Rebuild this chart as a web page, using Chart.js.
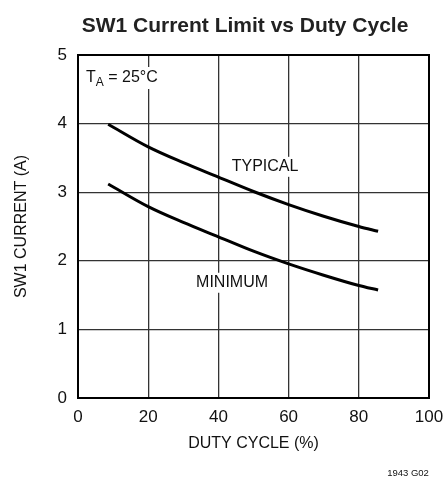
<!DOCTYPE html>
<html>
<head>
<meta charset="utf-8">
<script src="https://cdn.jsdelivr.net/npm/chart.js@4"></script>
<style>
  html, body { margin: 0; padding: 0; background: #fff; }
</style>
</head>
<body>
<canvas id="myChart" width="445" height="478"></canvas>
<script>
const FONT = '"Liberation Sans", Arial, sans-serif';

// duty cycle (%)
const dutyCycle = [8.6, 20, 30, 40, 50, 60, 70, 80, 85.5];
const typical = [3.99, 3.66, 3.43, 3.22, 3.01, 2.82, 2.65, 2.50, 2.43];
const minimum = [3.12, 2.79, 2.56, 2.35, 2.14, 1.955, 1.79, 1.64, 1.574];

const xTicks = [0, 20, 40, 60, 80, 100];
const yTicks = [0, 1, 2, 3, 4, 5];

// curve labels, in data units
const notes = [
  { text: 'TYPICAL', x: 53.3, y: 3.37 },
  { text: 'MINIMUM', x: 43.9, y: 1.68 }
];

function toPoints(xs, ys) {
  return xs.map((x, i) => ({ x: x, y: ys[i] }));
}

// title, closed frame, text on the plot, figure number
const notesPlugin = {
  id: 'notes',
  afterDatasetsDraw(chart) {
    const c = chart.ctx;
    const a = chart.chartArea;
    const xs = chart.scales.x, ys = chart.scales.y;
    c.save();
    c.strokeStyle = '#000';
    c.lineWidth = 2;
    c.strokeRect(a.left, a.top, a.right - a.left, a.bottom - a.top);

    // title sits over the plot box, not the whole canvas
    c.fillStyle = '#222';
    c.textAlign = 'center';
    c.textBaseline = 'middle';
    c.font = 'bold 21px ' + FONT;
    c.fillText('SW1 Current Limit vs Duty Cycle', 245, 26);

    c.font = '16px ' + FONT;
    notes.forEach(n => {
      const px = xs.getPixelForValue(n.x), py = ys.getPixelForValue(n.y);
      const w = c.measureText(n.text).width;
      c.fillStyle = '#fff';
      c.fillRect(px - w / 2 - 2, py - 10, w + 4, 20);
      c.fillStyle = '#111';
      c.fillText(n.text, px, py);
    });

    // T_A = 25°C with subscript
    const left = a.left + 8;
    const base = a.top + 27;
    c.textAlign = 'left';
    c.textBaseline = 'alphabetic';
    c.font = '16px ' + FONT;
    const w1 = c.measureText('T').width;
    c.font = '12px ' + FONT;
    const w2 = c.measureText('A').width;
    c.font = '16px ' + FONT;
    const w3 = c.measureText(' = 25°C').width;
    c.fillStyle = '#fff';
    c.fillRect(left - 2, base - 15, w1 + w2 + w3 + 4, 22);
    c.fillStyle = '#111';
    c.fillText('T', left, base);
    c.font = '12px ' + FONT;
    c.fillText('A', left + w1, base + 4);
    c.font = '16px ' + FONT;
    c.fillText(' = 25°C', left + w1 + w2, base);

    c.font = '9.5px ' + FONT;
    c.textAlign = 'center';
    c.fillText('1943 G02', 408, 476);
    c.restore();
  }
};

const ctx = document.getElementById('myChart').getContext('2d');
const myChart = new Chart(ctx, {
  type: 'line',
  data: {
    datasets: [{
      label: 'TYPICAL',
      data: toPoints(dutyCycle, typical),
      borderColor: '#000',
      borderWidth: 3,
      pointRadius: 0,
      cubicInterpolationMode: 'monotone'
    }, {
      label: 'MINIMUM',
      data: toPoints(dutyCycle, minimum),
      borderColor: '#000',
      borderWidth: 3,
      pointRadius: 0,
      cubicInterpolationMode: 'monotone'
    }]
  },
  options: {
    responsive: false,
    animation: false,
    layout: { padding: { left: 0, right: 16, top: 55, bottom: 0 } },
    plugins: {
      legend: { display: false },
      tooltip: { enabled: false },
      title: { display: false }
    },
    scales: {
      x: {
        type: 'linear',
        min: 0,
        max: 100,
        afterBuildTicks: s => { s.ticks = xTicks.map(v => ({ value: v })); },
        afterFit: s => { s.height = 80; s.paddingRight = 0; s.paddingLeft = 0; },
        ticks: { color: '#111', font: { family: FONT, size: 17 }, padding: 9, maxRotation: 0 },
        grid: { color: '#333', lineWidth: 1.3, drawTicks: false },
        border: { color: '#000', width: 2 },
        title: {
          display: true,
          text: 'DUTY CYCLE (%)',
          color: '#111',
          font: { family: FONT, size: 16 },
          padding: { top: 4, bottom: 25 }
        }
      },
      y: {
        min: 0,
        max: 5,
        afterBuildTicks: s => { s.ticks = yTicks.map(v => ({ value: v })); },
        afterFit: s => { s.width = 78; s.paddingTop = 0; },
        ticks: { color: '#111', font: { family: FONT, size: 17 }, padding: 11 },
        grid: { color: '#333', lineWidth: 1.3, drawTicks: false },
        border: { color: '#000', width: 2 },
        title: {
          display: true,
          text: 'SW1 CURRENT (A)',
          color: '#111',
          font: { family: FONT, size: 16 },
          padding: 12
        }
      }
    }
  },
  plugins: [notesPlugin]
});
</script>
</body>
</html>
